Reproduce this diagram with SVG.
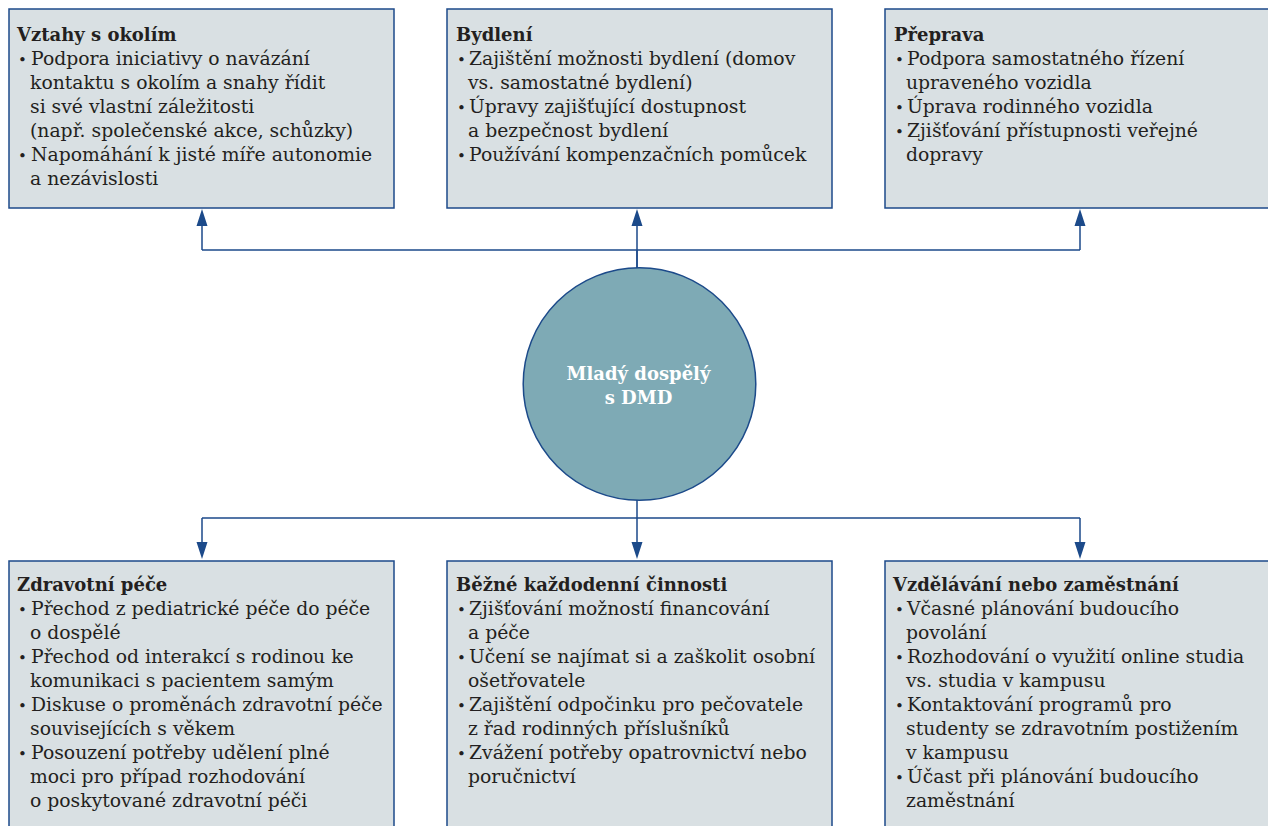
<svg xmlns="http://www.w3.org/2000/svg" width="1268" height="826" viewBox="0 0 1268 826">
<style>
.box{fill:#d9e0e3;stroke:#1c4a8a;stroke-width:1.5}
.t{font-family:"DejaVu Serif","Liberation Serif",serif;font-size:18.8px;fill:#231f20}
.h{font-weight:bold;font-size:18px}
.b{font-size:15px}
.c{fill:none;stroke:#1c4a8a;stroke-width:1.5}
.ah{fill:#1c4a8a}
.ct{font-family:"DejaVu Serif","Liberation Serif",serif;font-size:18px;font-weight:bold;fill:#ffffff;text-anchor:middle}
</style>
<rect width="1268" height="826" fill="#ffffff"/>
<g id="connectors">
<path class="c" d="M637,268 V250 M202,250 H1080"/>
<path class="c" d="M637,268 V224 M202,250 V224 M1080,250 V224"/>
<path class="c" d="M637,500 V518 M202,518 H1080 M202,518 V544 M637,518 V544 M1080,518 V544"/>
<path class="ah" d="M637,209 L642.5,226 L631.5,226 Z M202,209 L207.5,226 L196.5,226 Z M1080,209 L1085.5,226 L1074.5,226 Z"/>
<path class="ah" d="M637,559 L642.5,542 L631.5,542 Z M202,559 L207.5,542 L196.5,542 Z M1080,559 L1085.5,542 L1074.5,542 Z"/>
</g>
<g id="center">
<circle cx="639.5" cy="384" r="116.3" fill="#7eaab5" stroke="#1c4a8a" stroke-width="1.5"/>
<text class="ct" x="638.5" y="380">Mladý dospělý</text>
<text class="ct" x="638.5" y="404">s DMD</text>
</g>
<g id="vztahy">
<rect class="box" x="9" y="9" width="385" height="199"/>
<text class="t h" x="17" y="41">Vztahy s okolím</text>
<text class="t b" x="18" y="65">•</text><text class="t" x="31" y="65">Podpora iniciativy o navázání</text>
<text class="t" x="30" y="89">kontaktu s okolím a snahy řídit</text>
<text class="t" x="30" y="113">si své vlastní záležitosti</text>
<text class="t" x="30" y="137">(např. společenské akce, schůzky)</text>
<text class="t b" x="18" y="161">•</text><text class="t" x="31" y="161">Napomáhání k jisté míře autonomie</text>
<text class="t" x="30" y="185">a nezávislosti</text>
</g>
<g id="bydleni">
<rect class="box" x="447" y="9" width="385" height="199"/>
<text class="t h" x="456" y="41">Bydlení</text>
<text class="t b" x="457" y="65">•</text><text class="t" x="469" y="65">Zajištění možnosti bydlení (domov</text>
<text class="t" x="468" y="89">vs. samostatné bydlení)</text>
<text class="t b" x="457" y="113">•</text><text class="t" x="469" y="113">Úpravy zajišťující dostupnost</text>
<text class="t" x="468" y="137">a bezpečnost bydlení</text>
<text class="t b" x="457" y="161">•</text><text class="t" x="469" y="161">Používání kompenzačních pomůcek</text>
</g>
<g id="preprava">
<rect class="box" x="885" y="9" width="400" height="199"/>
<text class="t h" x="894" y="41">Přeprava</text>
<text class="t b" x="895" y="65">•</text><text class="t" x="907" y="65">Podpora samostatného řízení</text>
<text class="t" x="906" y="89">upraveného vozidla</text>
<text class="t b" x="895" y="113">•</text><text class="t" x="907" y="113">Úprava rodinného vozidla</text>
<text class="t b" x="895" y="137">•</text><text class="t" x="907" y="137">Zjišťování přístupnosti veřejné</text>
<text class="t" x="906" y="161">dopravy</text>
</g>
<g id="zdravotni">
<rect class="box" x="9" y="561" width="385" height="290"/>
<text class="t h" x="17" y="591">Zdravotní péče</text>
<text class="t b" x="18" y="615">•</text><text class="t" x="31" y="615">Přechod z pediatrické péče do péče</text>
<text class="t" x="30" y="639">o dospělé</text>
<text class="t b" x="18" y="663">•</text><text class="t" x="31" y="663">Přechod od interakcí s rodinou ke</text>
<text class="t" x="30" y="687">komunikaci s pacientem samým</text>
<text class="t b" x="18" y="711">•</text><text class="t" x="31" y="711">Diskuse o proměnách zdravotní péče</text>
<text class="t" x="30" y="735">souvisejících s věkem</text>
<text class="t b" x="18" y="759">•</text><text class="t" x="31" y="759">Posouzení potřeby udělení plné</text>
<text class="t" x="30" y="783">moci pro případ rozhodování</text>
<text class="t" x="30" y="807">o poskytované zdravotní péči</text>
</g>
<g id="bezne">
<rect class="box" x="447" y="561" width="385" height="290"/>
<text class="t h" x="456" y="591">Běžné každodenní činnosti</text>
<text class="t b" x="457" y="615">•</text><text class="t" x="469" y="615">Zjišťování možností financování</text>
<text class="t" x="468" y="639">a péče</text>
<text class="t b" x="457" y="663">•</text><text class="t" x="469" y="663">Učení se najímat si a zaškolit osobní</text>
<text class="t" x="468" y="687">ošetřovatele</text>
<text class="t b" x="457" y="711">•</text><text class="t" x="469" y="711">Zajištění odpočinku pro pečovatele</text>
<text class="t" x="468" y="735">z řad rodinných příslušníků</text>
<text class="t b" x="457" y="759">•</text><text class="t" x="469" y="759">Zvážení potřeby opatrovnictví nebo</text>
<text class="t" x="468" y="783">poručnictví</text>
</g>
<g id="vzdelavani">
<rect class="box" x="885" y="561" width="400" height="290"/>
<text class="t h" x="893" y="591">Vzdělávání nebo zaměstnání</text>
<text class="t b" x="895" y="615">•</text><text class="t" x="907" y="615">Včasné plánování budoucího</text>
<text class="t" x="906" y="639">povolání</text>
<text class="t b" x="895" y="663">•</text><text class="t" x="907" y="663">Rozhodování o využití online studia</text>
<text class="t" x="906" y="687">vs. studia v kampusu</text>
<text class="t b" x="895" y="711">•</text><text class="t" x="907" y="711">Kontaktování programů pro</text>
<text class="t" x="906" y="735">studenty se zdravotním postižením</text>
<text class="t" x="906" y="759">v kampusu</text>
<text class="t b" x="895" y="783">•</text><text class="t" x="907" y="783">Účast při plánování budoucího</text>
<text class="t" x="906" y="807">zaměstnání</text>
</g>
</svg>
